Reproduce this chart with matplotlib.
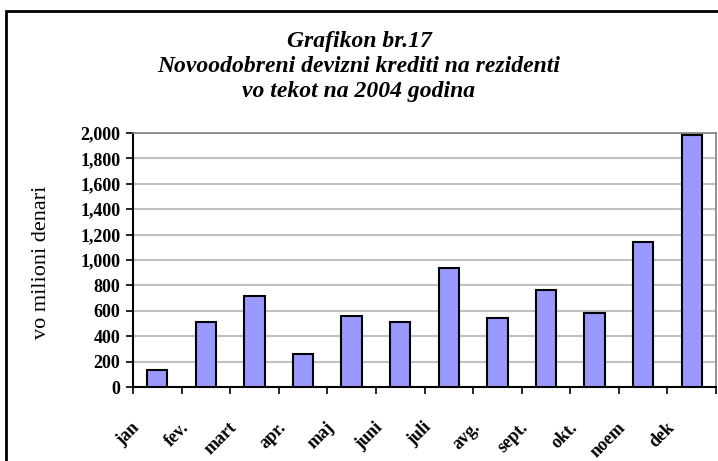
import numpy as np
import matplotlib
matplotlib.use('Agg')
import matplotlib.pyplot as plt
import matplotlib.transforms as mtransforms
from matplotlib.patches import Rectangle
from matplotlib.ticker import StrMethodFormatter, FixedLocator

# data (milioni denari)
months = ['jan', 'fev.', 'mart', 'apr.', 'maj', 'juni',
          'juli', 'avg.', 'sept.', 'okt.', 'noem', 'dek']
credits = [137, 513, 718, 260, 560, 513, 940, 545, 766, 579, 1145, 1982]

title = 'Grafikon br.17\nNovoodobreni devizni krediti na rezidenti\nvo tekot na 2004 godina'
ylabel = 'vo milioni denari'

SERIF = 'Liberation Serif'
BAR_COLOR = '#9999FF'

fig = plt.figure(figsize=(7.18, 4.61), dpi=100)
ax = fig.add_axes([133 / 718, 1 - 387 / 461, (716 - 133) / 718, (387 - 133) / 461])

x = np.arange(len(months))
ax.bar(x, credits, width=0.42, color=BAR_COLOR, edgecolor='black', linewidth=1.5, zorder=3)

ax.set_xlim(-0.5, len(months) - 0.5)
ax.set_ylim(0, 2000)
ax.set_yticks(np.arange(0, 2001, 200))
ax.yaxis.set_major_formatter(StrMethodFormatter('{x:,.0f}'))
ax.yaxis.grid(True, color='#C0C0C0', linewidth=1.5, zorder=0)
ax.set_axisbelow(True)

# month labels at bar centres, tick marks at category boundaries
ax.set_xticks(x)
ax.set_xticklabels(months, rotation=45, ha='right', va='top',
                   fontfamily=SERIF, fontsize=13, fontweight='bold')
ax.xaxis.set_minor_locator(FixedLocator(np.arange(-0.5, len(months), 1.0)))
ax.tick_params(axis='x', which='major', length=0, pad=23)
ax.tick_params(axis='x', which='minor', length=5, width=1.2, direction='out')
ax.tick_params(axis='y', length=5, width=1.2, direction='out', pad=4)
shift = mtransforms.ScaledTranslation(-14 / 100, 0, fig.dpi_scale_trans)
for lab in ax.get_xticklabels():
    lab.set_transform(lab.get_transform() + shift)

for lab in ax.get_yticklabels():
    lab.set_fontfamily(SERIF)
    lab.set_fontweight('bold')
    lab.set_fontsize(13)

for side in ['left', 'bottom']:
    ax.spines[side].set_color('black')
    ax.spines[side].set_linewidth(1.5)
for side in ['top', 'right']:
    ax.spines[side].set_color('#808080')
    ax.spines[side].set_linewidth(1.2)

ax.set_ylabel(ylabel, fontfamily=SERIF, fontsize=16)
ax.yaxis.set_label_coords(-(133 - 51) / 583, 0.49)

fig.text(0.5, 1 - 66 / 461, title, ha='center', va='center',
         fontfamily=SERIF, fontweight='bold', fontstyle='italic',
         fontsize=17, linespacing=1.25)

# outer chart border, runs off the right and bottom edge
fig.patches.append(Rectangle((6 / 718, -0.2), 1.5, 0.2 + 1 - 11 / 461,
                             transform=fig.transFigure, fill=False,
                             edgecolor='black', linewidth=2))

fig.savefig('out.png', dpi=100)
